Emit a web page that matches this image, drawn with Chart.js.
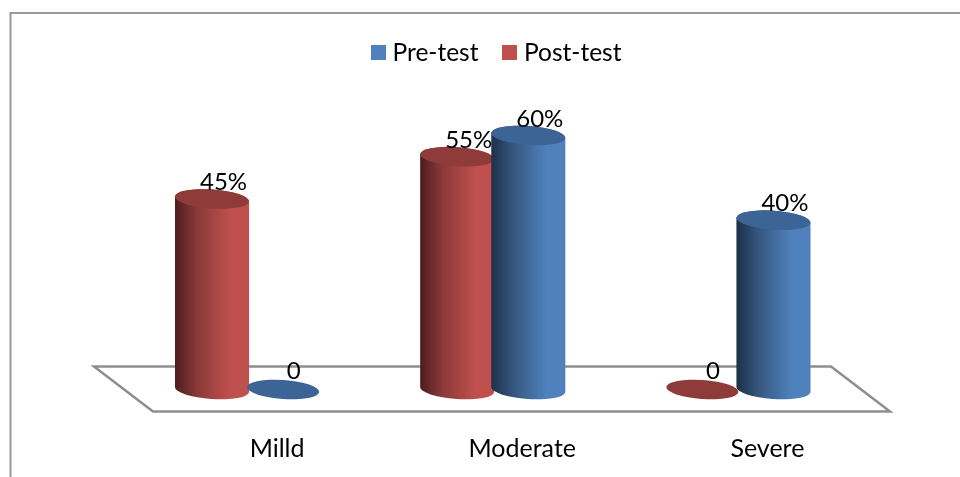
<!DOCTYPE html>
<html>
<head>
<meta charset="utf-8">
<style>
  html, body { margin: 0; padding: 0; background: #fff; }
  canvas { display: block; }
</style>
<script src="https://cdn.jsdelivr.net/npm/chart.js@4"></script>
</head>
<body>
<canvas id="chart" width="960" height="477"></canvas>
<script>
    const categories = ["Milld", "Moderate", "Severe"];
    const postTest = [45, 55, 0];
    const preTest = [0, 60, 40];

    const FONT = '24px Lato';
    const LEGEND_FONT = '24.5px Lato';
    const TILT = Math.atan(5 / 73);

    const COLORS = {
    pre: { main: '#4f81bd', dark: '#1d3049', mid: '#35577f', top: '#3c6494' },
    post: { main: '#c0504d', dark: '#4c1d1c', mid: '#8a3a38', top: '#8f3b39' }
};

    // cylinder drawn from the bar element, so value and position come from the scales
    function drawCylinder(ctx, el, col) {
    const rx = el.width / 2 + 0.5;
    const ry = 9.5;
    if (el.base - el.y > 0.5) {
    const g = ctx.createLinearGradient(el.x - rx, 0, el.x + rx, 0);
    g.addColorStop(0, col.dark);
    g.addColorStop(0.3, col.mid);
    g.addColorStop(0.75, col.main);
    g.addColorStop(1, col.main);
    ctx.beginPath();
    ctx.ellipse(el.x, el.y, rx, ry, TILT, 0, Math.PI, true);
    ctx.ellipse(el.x, el.base, rx, ry, TILT, Math.PI, 0, true);
    ctx.closePath();
    ctx.fillStyle = g;
    ctx.fill();
}
    ctx.beginPath();
    ctx.ellipse(el.x, el.y, el.base - el.y > 0.5 ? rx : rx - 1, ry, TILT, 0, Math.PI * 2);
    ctx.fillStyle = col.top;
    ctx.fill();
}

    const cylinderPlugin = {
    id: 'cylinders',
    beforeDraw(chart) {
    const ctx = chart.ctx;
    // outer frame
    ctx.save();
    ctx.strokeStyle = '#9a9a9a';
    ctx.lineWidth = 2;
    ctx.beginPath();
    ctx.moveTo(10.5, 477);
    ctx.lineTo(10.5, 13);
    ctx.lineTo(960, 13);
    ctx.stroke();

    // legend, pre-test first
    ctx.font = LEGEND_FONT;
    ctx.textBaseline = 'alphabetic';
    ctx.fillStyle = COLORS.pre.main;
    ctx.fillRect(371, 45, 15, 15);
    ctx.fillStyle = COLORS.post.main;
    ctx.fillRect(502, 45, 15, 15);
    ctx.fillStyle = '#000';
    ctx.fillText(chart.data.datasets[1].label, 392.5, 61);
    ctx.fillText(chart.data.datasets[0].label, 524, 61);
    ctx.restore();
},
    beforeDatasetsDraw(chart) {
    const ctx = chart.ctx;
    const area = chart.chartArea;
    ctx.save();

    // floor
    ctx.strokeStyle = '#8e8e8e';
    ctx.lineWidth = 2.5;
    ctx.beginPath();
    ctx.moveTo(area.left - 31, area.bottom - 23);
    ctx.lineTo(area.right - 29.5, area.bottom - 23);
    ctx.lineTo(area.right + 29.5, area.bottom + 22);
    ctx.lineTo(area.left + 28, area.bottom + 22);
    ctx.closePath();
    ctx.stroke();

    // right hand series has to sit in front, so draw in index order
    chart.getDatasetMeta(0).data.forEach(el => drawCylinder(ctx, el, COLORS.post));
    chart.getDatasetMeta(1).data.forEach(el => drawCylinder(ctx, el, COLORS.pre));

    ctx.font = FONT;
    ctx.fillStyle = '#000';
    ctx.textAlign = 'center';
    ctx.textBaseline = 'alphabetic';
    chart.data.datasets.forEach((ds, i) => {
    chart.getDatasetMeta(i).data.forEach((el, j) => {
    const v = ds.data[j];
    if (v === 0) {
    ctx.fillText('0', el.x + 10.5, el.base - 10.5);
} else {
    ctx.fillText(v + '%', el.x + 11.5, el.y - 9);
}
});
});
    ctx.restore();
    return false;
}
};

    new Chart(document.getElementById("chart").getContext("2d"), {
    type: 'bar',
    data: {
    labels: categories,
    datasets: [
{
    label: "Post-test",
    backgroundColor: COLORS.post.main,
    categoryPercentage: 0.58,
    barPercentage: 1.03,
    data: postTest
},
{
    label: "Pre-test",
    backgroundColor: COLORS.pre.main,
    categoryPercentage: 0.58,
    barPercentage: 1.03,
    data: preTest
}]
},
    plugins: [cylinderPlugin],
    options: {
    responsive: false,
    animation: false,
    layout: {
    padding: { left: 125, right: 99.5, top: 135.5, bottom: 0 }
},
    plugins: {
    legend: { display: false },
    tooltip: { enabled: false }
},
    scales: {
    x: {
    grid: { display: false },
    border: { display: false },
    afterFit: scale => { scale.height = 87.5; },
    ticks: {
    color: '#000',
    font: { family: 'Lato', size: 25 },
    padding: 36,
    labelOffset: 29.5,
    maxRotation: 0,
    autoSkip: false
}
},
    y: {
    display: false,
    min: 0,
    max: 60
}
}
}
});
</script>
</body>
</html>
